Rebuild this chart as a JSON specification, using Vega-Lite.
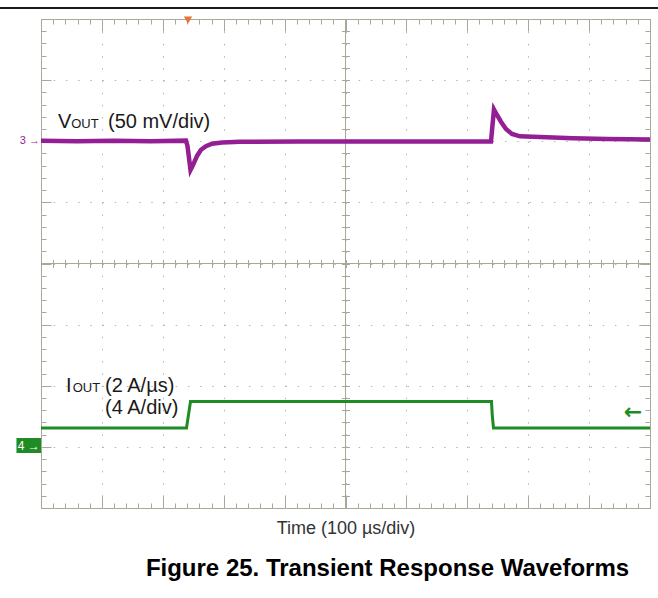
{
  "$schema": "https://vega.github.io/schema/vega-lite/v6.json",
  "width": 609,
  "height": 489,
  "autosize": {"type": "none"},
  "padding": {"left": 41, "top": 19, "right": 8, "bottom": 90},
  "background": "white",
  "config": {
    "view": {"stroke": "#a8a898", "strokeWidth": 1},
    "axis": {"domain": false, "labels": false, "tickColor": "#a8a898", "tickWidth": 1, "grid": false}
  },
  "title": {
    "text": "Figure 25. Transient Response Waveforms",
    "orient": "bottom",
    "anchor": "middle",
    "font": "Liberation Sans",
    "fontSize": 24,
    "fontWeight": "bold",
    "color": "#000000",
    "dx": 42,
    "offset": 19
  },
  "datasets": {
    "vcenter": [{"x": 5, "y": 0, "y2": 8}],
    "hcenter": [{"x": 0, "x2": 10, "y": 4}],
    "vout": [
      {"time": 0, "value": 6.01}, {"time": 0.6, "value": 6.0}, {"time": 1.2, "value": 6.01},
      {"time": 1.8, "value": 6.0}, {"time": 2.381, "value": 6.01}, {"time": 2.406, "value": 5.92},
      {"time": 2.455, "value": 5.53}, {"time": 2.496, "value": 5.61}, {"time": 2.562, "value": 5.76},
      {"time": 2.627, "value": 5.86}, {"time": 2.709, "value": 5.92}, {"time": 2.808, "value": 5.96},
      {"time": 2.972, "value": 5.98}, {"time": 3.268, "value": 5.99}, {"time": 4.25, "value": 5.995},
      {"time": 5.9, "value": 5.995}, {"time": 7.389, "value": 5.995}, {"time": 7.406, "value": 6.18},
      {"time": 7.438, "value": 6.52}, {"time": 7.488, "value": 6.43}, {"time": 7.553, "value": 6.32},
      {"time": 7.635, "value": 6.2}, {"time": 7.734, "value": 6.12}, {"time": 7.865, "value": 6.08},
      {"time": 8.194, "value": 6.07}, {"time": 8.736, "value": 6.05}, {"time": 9.294, "value": 6.035},
      {"time": 10, "value": 6.03}
    ],
    "iout": [
      {"time": 0, "value": 1.31}, {"time": 2.389, "value": 1.31}, {"time": 2.455, "value": 1.742},
      {"time": 7.397, "value": 1.742}, {"time": 7.41, "value": 1.52}, {"time": 7.43, "value": 1.31},
      {"time": 10, "value": 1.31}
    ],
    "toprule": [{"x": -0.673, "x2": 10.131, "y": 8.18}],
    "trigger": [{"x": 2.414, "y": 7.98}],
    "box4": [{"x": -0.403, "x2": 0, "y": 0.9, "y2": 1.145}],
    "marker4": [{"text": "4 →", "x": -0.2, "y": 1.022}],
    "marker3": [{"text": "3 →", "x": 0, "y": 6.01}],
    "arrow": [{"text": "←", "x": 9.72, "y": 1.571}],
    "labelsBig": [
      {"text": "V", "x": 0.279, "y": 6.217},
      {"text": "(50 mV/div)", "x": 1.1, "y": 6.217},
      {"text": "I", "x": 0.41, "y": 1.898},
      {"text": "(2 A/µs)", "x": 1.051, "y": 1.898},
      {"text": "(4 A/div)", "x": 1.051, "y": 1.54}
    ],
    "labelsSmall": [
      {"text": "OUT", "x": 0.496, "y": 6.217},
      {"text": "OUT", "x": 0.52, "y": 1.898}
    ]
  },
  "layer": [
    {
      "data": {"name": "vcenter"},
      "mark": {"type": "rule", "color": "#a8a898", "strokeWidth": 1},
      "encoding": {
        "x": {"field": "x", "type": "quantitative", "scale": {"domain": [0, 10], "nice": false, "zero": false},
          "axis": {"orient": "bottom", "offset": -5, "tickSize": 5,
            "values": [0,0.2,0.4,0.6,0.8,1,1.2,1.4,1.6,1.8,2,2.2,2.4,2.6,2.8,3,3.2,3.4,3.6,3.8,4,4.2,4.4,4.6,4.8,5,5.2,5.4,5.6,5.8,6,6.2,6.4,6.6,6.8,7,7.2,7.4,7.6,7.8,8,8.2,8.4,8.6,8.8,9,9.2,9.4,9.6,9.8,10],
            "title": "Time (100 µs/div)", "titleFont": "Liberation Sans", "titleFontSize": 18, "titleFontWeight": "normal", "titleColor": "#333333", "titlePadding": 11}},
        "y": {"field": "y", "type": "quantitative", "scale": {"domain": [0, 8], "nice": false, "zero": false},
          "axis": {"orient": "left", "offset": -5, "tickSize": 5,
            "values": [0,0.2,0.4,0.6,0.8,1,1.2,1.4,1.6,1.8,2,2.2,2.4,2.6,2.8,3,3.2,3.4,3.6,3.8,4,4.2,4.4,4.6,4.8,5,5.2,5.4,5.6,5.8,6,6.2,6.4,6.6,6.8,7,7.2,7.4,7.6,7.8,8],
            "title": null}},
        "y2": {"field": "y2"}
      }
    },
    {
      "data": {"name": "hcenter"},
      "mark": {"type": "rule", "color": "#a8a898", "strokeWidth": 1},
      "encoding": {
        "x": {"field": "x", "type": "quantitative", "scale": {"domain": [0, 10], "nice": false, "zero": false},
          "axis": {"orient": "bottom", "offset": -12, "tickSize": 12, "values": [0,1,2,3,4,5,6,7,8,9,10],
            "grid": true, "gridColor": "#b5b5b5", "gridDash": [1.5, 10.7], "gridWidth": 1, "title": null}},
        "x2": {"field": "x2"},
        "y": {"field": "y", "type": "quantitative", "scale": {"domain": [0, 8], "nice": false, "zero": false},
          "axis": {"orient": "left", "offset": -10, "tickSize": 10, "values": [0,1,2,3,4,5,6,7,8],
            "grid": true, "gridColor": "#b5b5b5", "gridDash": [1.5, 10.7], "gridWidth": 1, "title": null}}
      }
    },
    {
      "data": {"name": "trigger"},
      "mark": {"type": "point", "shape": "triangle-down", "filled": true, "size": 70, "color": "#e8743b", "opacity": 1},
      "encoding": {
        "x": {"field": "x", "type": "quantitative", "scale": {"domain": [0, 10], "nice": false, "zero": false},
          "axis": {"orient": "bottom", "offset": -248.5, "tickSize": 8,
            "values": [0,0.2,0.4,0.6,0.8,1,1.2,1.4,1.6,1.8,2,2.2,2.4,2.6,2.8,3,3.2,3.4,3.6,3.8,4,4.2,4.4,4.6,4.8,5,5.2,5.4,5.6,5.8,6,6.2,6.4,6.6,6.8,7,7.2,7.4,7.6,7.8,8,8.2,8.4,8.6,8.8,9,9.2,9.4,9.6,9.8,10],
            "title": null}},
        "y": {"field": "y", "type": "quantitative", "scale": {"domain": [0, 8], "nice": false, "zero": false},
          "axis": {"orient": "left", "offset": -308.5, "tickSize": 8,
            "values": [0,0.2,0.4,0.6,0.8,1,1.2,1.4,1.6,1.8,2,2.2,2.4,2.6,2.8,3,3.2,3.4,3.6,3.8,4,4.2,4.4,4.6,4.8,5,5.2,5.4,5.6,5.8,6,6.2,6.4,6.6,6.8,7,7.2,7.4,7.6,7.8,8],
            "title": null}}
      }
    },
    {
      "data": {"name": "vout"},
      "mark": {"type": "line", "color": "#941e94", "strokeWidth": 4.5, "interpolate": "linear"},
      "encoding": {
        "x": {"field": "time", "type": "quantitative", "scale": {"domain": [0, 10], "nice": false, "zero": false},
          "axis": {"orient": "top", "offset": -5, "tickSize": 5,
            "values": [0,0.2,0.4,0.6,0.8,1,1.2,1.4,1.6,1.8,2,2.2,2.4,2.6,2.8,3,3.2,3.4,3.6,3.8,4,4.2,4.4,4.6,4.8,5,5.2,5.4,5.6,5.8,6,6.2,6.4,6.6,6.8,7,7.2,7.4,7.6,7.8,8,8.2,8.4,8.6,8.8,9,9.2,9.4,9.6,9.8,10],
            "title": null}},
        "y": {"field": "value", "type": "quantitative", "scale": {"domain": [0, 8], "nice": false, "zero": false},
          "axis": {"orient": "right", "offset": -5, "tickSize": 5,
            "values": [0,0.2,0.4,0.6,0.8,1,1.2,1.4,1.6,1.8,2,2.2,2.4,2.6,2.8,3,3.2,3.4,3.6,3.8,4,4.2,4.4,4.6,4.8,5,5.2,5.4,5.6,5.8,6,6.2,6.4,6.6,6.8,7,7.2,7.4,7.6,7.8,8],
            "title": null}}
      }
    },
    {
      "data": {"name": "iout"},
      "mark": {"type": "line", "color": "#1f8b24", "strokeWidth": 3, "interpolate": "linear"},
      "encoding": {
        "x": {"field": "time", "type": "quantitative", "scale": {"domain": [0, 10], "nice": false, "zero": false},
          "axis": {"orient": "top", "offset": -12, "tickSize": 12, "values": [0,1,2,3,4,5,6,7,8,9,10], "title": null}},
        "y": {"field": "value", "type": "quantitative", "scale": {"domain": [0, 8], "nice": false, "zero": false},
          "axis": {"orient": "right", "offset": -10, "tickSize": 10, "values": [0,1,2,3,4,5,6,7,8], "title": null}}
      }
    },
    {
      "data": {"name": "toprule"},
      "mark": {"type": "rule", "color": "#1a1a1a", "strokeWidth": 2},
      "encoding": {
        "x": {"field": "x", "type": "quantitative", "axis": null},
        "x2": {"field": "x2"},
        "y": {"field": "y", "type": "quantitative", "axis": null}
      }
    },
    {
      "data": {"name": "box4"},
      "mark": {"type": "rect", "color": "#1f8b24"},
      "encoding": {
        "x": {"field": "x", "type": "quantitative", "axis": null},
        "x2": {"field": "x2"},
        "y": {"field": "y", "type": "quantitative", "axis": null},
        "y2": {"field": "y2"}
      }
    },
    {
      "data": {"name": "marker4"},
      "mark": {"type": "text", "color": "#ffffff", "font": "Liberation Sans", "fontSize": 12, "align": "center", "baseline": "middle"},
      "encoding": {
        "x": {"field": "x", "type": "quantitative", "axis": null},
        "y": {"field": "y", "type": "quantitative", "axis": null},
        "text": {"field": "text"}
      }
    },
    {
      "data": {"name": "marker3"},
      "mark": {"type": "text", "color": "#961f96", "font": "Liberation Sans", "fontSize": 11, "align": "right", "baseline": "middle", "dx": -1},
      "encoding": {
        "x": {"field": "x", "type": "quantitative", "axis": null},
        "y": {"field": "y", "type": "quantitative", "axis": null},
        "text": {"field": "text"}
      }
    },
    {
      "data": {"name": "arrow"},
      "mark": {"type": "text", "color": "#1f8b24", "font": "DejaVu Sans", "fontSize": 22, "fontWeight": "bold", "align": "center", "baseline": "middle"},
      "encoding": {
        "x": {"field": "x", "type": "quantitative", "axis": null},
        "y": {"field": "y", "type": "quantitative", "axis": null},
        "text": {"field": "text"}
      }
    },
    {
      "data": {"name": "labelsBig"},
      "mark": {"type": "text", "color": "#1a1a1a", "font": "Liberation Sans", "fontSize": 20, "align": "left", "baseline": "alphabetic"},
      "encoding": {
        "x": {"field": "x", "type": "quantitative", "axis": null},
        "y": {"field": "y", "type": "quantitative", "axis": null},
        "text": {"field": "text"}
      }
    },
    {
      "data": {"name": "labelsSmall"},
      "mark": {"type": "text", "color": "#1a1a1a", "font": "Liberation Sans", "fontSize": 13, "align": "left", "baseline": "alphabetic"},
      "encoding": {
        "x": {"field": "x", "type": "quantitative", "axis": null},
        "y": {"field": "y", "type": "quantitative", "axis": null},
        "text": {"field": "text"}
      }
    }
  ],
  "resolve": {"axis": {"x": "independent", "y": "independent"}}
}
